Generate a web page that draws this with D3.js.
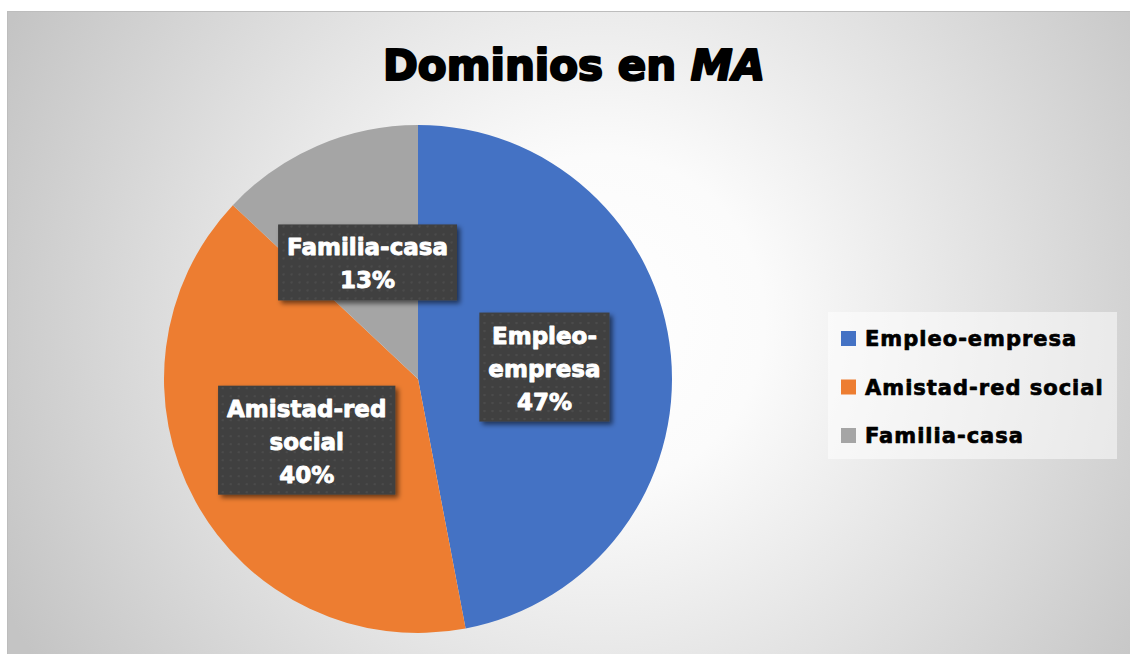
<!DOCTYPE html>
<html>
<head>
<meta charset="utf-8">
<title>Dominios en MA</title>
<script src="https://d3js.org/d3.v7.min.js"></script>
<style>
  body { margin: 0; background: #fff; }
  svg { display: block; }
  .lbl { font-family: "DejaVu Sans", sans-serif; font-weight: bold; fill: #fff; stroke: #fff; stroke-width: 0.9px; stroke-linejoin: round; }
  .leg { font-family: "DejaVu Sans", sans-serif; font-weight: bold; fill: #000; stroke: #000; stroke-width: 0.7px; stroke-linejoin: round; }
</style>
</head>
<body>
<div id="chart"></div>
<script>
// data
const categories = ["Empleo-empresa", "Amistad-red social", "Familia-casa"];
const values = [47, 40, 13];
const labelLines = [["Empleo-", "empresa"], ["Amistad-red", "social"], ["Familia-casa"]];
const colors = ["#4472C4", "#ED7D31", "#A5A5A5"];

const W = 1130, H = 654;
const svg = d3.select("#chart").append("svg")
    .attr("width", W).attr("height", H);

const defs = svg.append("defs");
const bg = defs.append("radialGradient")
    .attr("id", "bg")
    .attr("gradientUnits", "userSpaceOnUse")
    .attr("cx", 600).attr("cy", 320).attr("r", 660);
bg.append("stop").attr("offset", "0%").attr("stop-color", "#ffffff");
bg.append("stop").attr("offset", "25%").attr("stop-color", "#fbfbfb");
bg.append("stop").attr("offset", "100%").attr("stop-color", "#c4c4c4");

// dotted texture for data label boxes
const pat = defs.append("pattern")
    .attr("id", "dots")
    .attr("patternUnits", "userSpaceOnUse")
    .attr("width", 8).attr("height", 8);
pat.append("rect").attr("width", 8).attr("height", 8).attr("fill", "#3f3f3f");
pat.append("circle").attr("cx", 4).attr("cy", 4).attr("r", 1.3).attr("fill", "#4c4c4c");

const shadow = defs.append("filter").attr("id", "shadow")
    .attr("x", "-20%").attr("y", "-20%").attr("width", "140%").attr("height", "140%");
shadow.append("feDropShadow")
    .attr("dx", 3).attr("dy", 3).attr("stdDeviation", 2.5)
    .attr("flood-color", "#000").attr("flood-opacity", 0.55);

// chart area
svg.append("rect")
    .attr("x", 7.5).attr("y", 11.5)
    .attr("width", W).attr("height", H)
    .attr("fill", "url(#bg)")
    .attr("stroke", "#bdbdbd");

// title
const title = svg.append("text")
    .attr("x", 574).attr("y", 80)
    .attr("text-anchor", "middle")
    .style("font-family", "'DejaVu Sans', sans-serif")
    .style("font-weight", "bold")
    .style("font-size", "42px")
    .attr("fill", "#000")
    .attr("stroke", "#000")
    .attr("stroke-width", 2.2)
    .attr("stroke-linejoin", "round");
title.append("tspan").text("Dominios en ");
title.append("tspan").style("font-style", "italic").text("MA");

// pie
const cx = 418, cy = 379, R = 254;
const pie = d3.pie().sort(null).value(d => d)(values);
const arc = d3.arc().innerRadius(0).outerRadius(R);

const g = svg.append("g").attr("transform", `translate(${cx},${cy})`);

g.selectAll("path.slice")
    .data(pie)
    .enter()
    .append("path")
    .attr("class", "slice")
    .attr("d", arc)
    .attr("fill", (d, i) => colors[i]);

// data labels
const lineH = 33, fs = 23;
pie.forEach((d, i) => {
    const lines = labelLines[i].concat([values[i] + "%"]);
    const [lx, ly] = arc.centroid(d);
    const lg = g.append("g").attr("transform", `translate(${lx},${ly})`);
    const box = lg.append("rect")
        .attr("fill", "url(#dots)")
        .attr("filter", "url(#shadow)");
    const t = lg.append("text")
        .attr("class", "lbl")
        .attr("text-anchor", "middle")
        .style("font-size", fs + "px");
    const top = -lines.length * lineH / 2;
    lines.forEach((s, k) => {
        t.append("tspan")
            .attr("x", 0)
            .attr("y", top + k * lineH + 26)
            .text(s);
    });
    const w = t.node().getBBox().width + 18;
    const h = lines.length * lineH + 10;
    box.attr("x", -w / 2).attr("y", -h / 2).attr("width", w).attr("height", h);
});

// legend
const legend = svg.append("g").attr("transform", "translate(828,312)");
legend.append("rect")
    .attr("width", 289).attr("height", 147)
    .attr("fill", "#ffffff").attr("fill-opacity", 0.5);

const item = legend.selectAll(".item")
    .data(categories)
    .enter()
    .append("g")
    .attr("class", "item")
    .attr("transform", (d, i) => `translate(13, ${19 + i * 48.5})`);

item.append("rect")
    .attr("width", 15).attr("height", 15)
    .attr("fill", (d, i) => colors[i]);

item.append("text")
    .attr("class", "leg")
    .attr("x", 24).attr("y", 15)
    .style("font-size", "21px")
    .style("letter-spacing", "1px")
    .text(d => d);
</script>
</body>
</html>
